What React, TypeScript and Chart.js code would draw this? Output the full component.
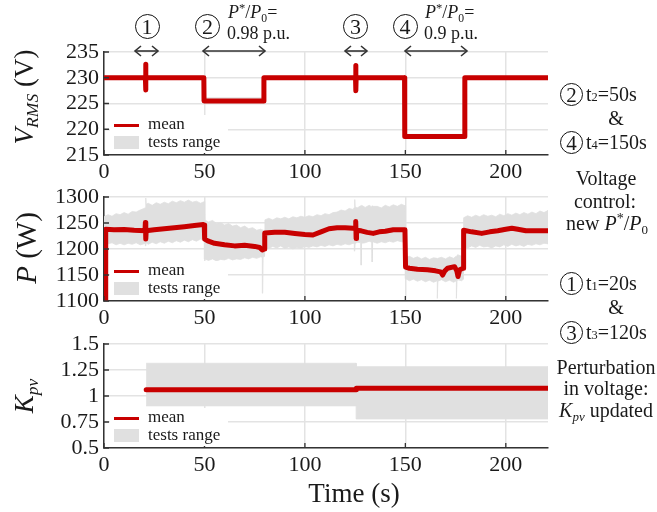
import React, { useEffect, useRef } from 'react';
import { Chart, registerables } from 'chart.js';
Chart.register(...registerables);

// ---------- data ----------
const xTicks = [0, 50, 100, 150, 200];
const X_MAX = 221;

// V_RMS panel
const vTicks = [215, 220, 225, 230, 235];
const vTime = [0, 20.6, 20.7, 20.8, 20.9, 49.7, 49.8, 79.5, 79.6, 125.2, 125.3, 125.4, 125.5, 149.6, 149.7, 179.5, 179.6, 221];
const vMean = [230, 230, 232.6, 227.6, 230, 230, 225.5, 225.5, 230, 230, 232.4, 227.5, 230, 230, 218.6, 218.6, 230, 230];
const vBandTime = [0, 49.7, 49.8, 79.5, 79.6, 149.6, 149.7, 179.5, 179.6, 221];
const vUpper = [230.3, 230.3, 226.1, 226.1, 230.3, 230.3, 219.0, 219.0, 230.3, 230.3];
const vLower = [229.7, 229.7, 225.0, 225.0, 229.7, 229.7, 218.2, 218.2, 229.7, 229.7];

// P panel
const pTicks = [1100, 1150, 1200, 1250, 1300];
const pTime = [0.8, 0.85, 5, 10, 15, 20.4, 20.6, 20.8, 21.0, 25, 30, 35, 40, 45, 49.5, 49.9, 50.1, 52, 55, 60, 65, 70, 75, 77.5, 78.8, 79.8, 80.0, 85, 90, 95, 100, 104, 108, 112, 116, 120, 124, 125.1, 125.3, 125.5, 125.7, 128, 131, 134, 137, 140, 144, 149.8, 150.1, 152, 156, 161, 165, 167.5, 168.6, 169.5, 171, 174.5, 175.6, 176.2, 177, 178.8, 179.0, 183, 188, 192, 196, 200, 203, 206, 210, 215, 221];
const pMean = [1090, 1238, 1237, 1237.5, 1236, 1235, 1251, 1219, 1235, 1237, 1239, 1241, 1243, 1245, 1247, 1246, 1219, 1215, 1211, 1208, 1206, 1207, 1205, 1203, 1198, 1200, 1231, 1232, 1232, 1230, 1228, 1227, 1233, 1239, 1241, 1241, 1240, 1241, 1253, 1220, 1236, 1235, 1232, 1230, 1233, 1234, 1237, 1237, 1165, 1163, 1161, 1160, 1158, 1156, 1150, 1157, 1163, 1166, 1158, 1147, 1160, 1163, 1236, 1233, 1230, 1233, 1235, 1238, 1240, 1238, 1235, 1235, 1235];
const pBandTime = [
  0, 2, 4, 6, 8, 10, 12, 14, 16, 18, 20, 20.6, 20.8, 21, 22, 24, 26, 28, 30, 32, 34, 36, 38, 40, 42, 44, 46, 48, 49.9,
  50.1, 52, 54, 56, 58, 60, 62, 64, 66, 68, 70, 72, 74, 76, 78, 78.8, 79, 79.2, 79.9,
  80.1, 82, 84, 86, 88, 90, 92, 94, 96, 98, 100, 102, 104, 106, 108, 110, 112, 114, 116, 118, 120, 122, 124, 124.6, 124.8, 125, 126, 127.8, 128, 128.2, 130, 132, 133.3, 133.5, 133.7, 136, 138, 140, 142, 144, 146, 148, 149.9,
  150.1, 152, 154, 156, 158, 160, 162, 164, 165.8, 166, 166.2, 168, 170, 172, 174, 175.3, 175.5, 175.7, 176, 178, 178.9,
  179, 181, 183, 185, 187, 189, 191, 193, 195, 197, 199, 201, 203, 205, 207, 209, 211, 213, 215, 217, 219, 221,
];
const pUpper = [
  1262, 1266, 1263, 1268, 1266, 1270, 1267, 1272, 1271, 1275, 1278, 1280, 1298, 1286, 1288, 1284, 1289, 1286, 1290, 1287, 1292, 1289, 1293, 1290, 1294, 1290, 1292, 1288, 1291,
  1256, 1252, 1255, 1249, 1251, 1246, 1249, 1244, 1246, 1241, 1244, 1239, 1241, 1236, 1238, 1236, 1237, 1235, 1236,
  1256, 1259, 1256, 1260, 1258, 1261, 1258, 1262, 1260, 1263, 1261, 1264, 1262, 1266, 1264, 1268, 1266, 1270, 1271, 1275, 1273, 1278, 1276, 1280, 1295, 1281, 1279, 1283, 1282, 1284, 1280, 1284, 1281, 1283, 1282, 1282, 1279, 1284, 1281, 1285, 1282, 1286, 1283,
  1183, 1186, 1182, 1185, 1181, 1184, 1180, 1183, 1182, 1181, 1182, 1184, 1181, 1185, 1182, 1186, 1184, 1186, 1189, 1186, 1188,
  1260, 1264, 1261, 1265, 1262, 1266, 1263, 1265, 1262, 1267, 1264, 1268, 1265, 1269, 1266, 1270, 1267, 1271, 1268, 1273, 1270, 1274,
];
const pLower = [
  1213, 1210, 1212, 1208, 1211, 1208, 1211, 1209, 1212, 1208, 1210, 1211, 1206, 1212, 1209, 1213, 1210, 1214, 1211, 1215, 1212, 1216, 1213, 1217, 1214, 1218, 1215, 1219, 1217,
  1181, 1178, 1181, 1177, 1180, 1179, 1182, 1179, 1181, 1180, 1183, 1181, 1184, 1182, 1185, 1184, 1115, 1184, 1186,
  1204, 1201, 1205, 1202, 1206, 1201, 1204, 1200, 1203, 1201, 1205, 1203, 1206, 1204, 1207, 1205, 1208, 1206, 1209, 1207, 1210, 1208, 1211, 1209, 1196, 1210, 1213, 1212, 1169, 1211, 1212, 1215, 1213, 1175, 1214, 1211, 1214, 1212, 1215, 1213, 1216, 1214, 1213,
  1143, 1139, 1142, 1138, 1141, 1137, 1140, 1136, 1139, 1105, 1138, 1141, 1137, 1140, 1136, 1139, 1105, 1138, 1141, 1139, 1142,
  1205, 1202, 1206, 1203, 1207, 1204, 1205, 1202, 1206, 1204, 1208, 1205, 1209, 1206, 1208, 1205, 1209, 1207, 1210, 1208, 1211, 1210,
];

// K_pv panel
const kTicks = [0.5, 0.75, 1, 1.25, 1.5];
const kTime = [21, 125.5, 125.6, 221];
const kMean = [1.06, 1.06, 1.074, 1.074];
const kBandTime = [21, 125.5, 125.6, 221];
const kUpper = [1.315, 1.315, 1.282, 1.282];
const kLower = [0.905, 0.905, 0.779, 0.779];

// ---------- styles ----------
const RED = '#c80000';
const BAND = '#e0e0e0';
const GRID = '#e3e3e3';
const AXIS = '#333333';
const INK = '#1a1a1a';
const FONT = "'Liberation Serif', 'Times New Roman', serif";

const pts = (xs: number[], ys: number[]) => xs.map((x, i) => ({ x, y: ys[i] }));
// closed outline of the range: upper edge forward, lower edge backward
const bandShape = (xs: number[], up: number[], lo: number[]) => [
  ...pts(xs, up),
  ...pts(xs, lo).reverse(),
];

const inwardTicks = {
  id: 'inwardTicks',
  afterDatasetsDraw(chart: any) {
    const { ctx, chartArea, scales } = chart;
    const xs = scales.x;
    const ys = scales.y;
    ctx.save();
    ctx.strokeStyle = AXIS;
    ctx.lineWidth = 1.3;
    ctx.beginPath();
    xs.ticks.forEach((t: any) => {
      const px = xs.getPixelForValue(t.value);
      ctx.moveTo(px, chartArea.bottom);
      ctx.lineTo(px, chartArea.bottom - 5);
    });
    ys.ticks.forEach((t: any) => {
      const py = ys.getPixelForValue(t.value);
      ctx.moveTo(chartArea.left, py);
      ctx.lineTo(chartArea.left + 5, py);
    });
    ctx.stroke();
    ctx.restore();
  },
};

function makeConfig(
  yMin: number, yMax: number, yTicks: number[],
  time: number[], mean: number[], bTime: number[], upper: number[], lower: number[],
): any {
  return {
    type: 'line',
    data: {
      datasets: [
        {
          label: 'mean', data: pts(time, mean), borderColor: RED, borderWidth: 5,
          pointRadius: 0, fill: false, borderCapStyle: 'round', borderJoinStyle: 'round',
        },
        {
          label: 'tests range', data: bandShape(bTime, upper, lower), borderColor: BAND, borderWidth: 0.8,
          backgroundColor: BAND, pointRadius: 0, fill: 'shape',
        },
      ],
    },
    options: {
      animation: false,
      responsive: true,
      maintainAspectRatio: false,
      layout: { padding: { top: 20, right: 12, bottom: 0, left: 0 } },
      plugins: { legend: { display: false }, tooltip: { enabled: false } },
      elements: { line: { tension: 0 } },
      scales: {
        x: {
          type: 'linear', min: 0, max: X_MAX,
          afterBuildTicks: (s: any) => { s.ticks = xTicks.map((v) => ({ value: v })); },
          afterFit: (s: any) => { s.height = 40; },
          grid: { color: GRID, lineWidth: 1.5, drawTicks: false },
          border: { color: AXIS, width: 1.5 },
          ticks: { padding: 4, color: INK, font: { family: FONT, size: 22 }, maxRotation: 0, autoSkip: false, callback: (v: any) => String(v) },
        },
        y: {
          type: 'linear', min: yMin, max: yMax,
          afterBuildTicks: (s: any) => { s.ticks = yTicks.map((v) => ({ value: v })); },
          afterFit: (s: any) => { s.width = 104; },
          grid: { color: GRID, lineWidth: 1.5, drawTicks: false },
          border: { color: AXIS, width: 1.5 },
          ticks: { padding: 5, color: INK, font: { family: FONT, size: 22 }, autoSkip: false, callback: (v: any) => String(v) },
        },
      },
    },
    plugins: [inwardTicks],
  };
}

function Panel({ top, height, config }: { top: number; height: number; config: () => any }) {
  const ref = useRef<HTMLCanvasElement>(null);
  useEffect(() => {
    const c = new Chart(ref.current as HTMLCanvasElement, config());
    return () => c.destroy();
  }, []);
  return (
    <div style={{ position: 'absolute', left: 0, top, width: 560, height }}>
      <canvas ref={ref} />
    </div>
  );
}

function Txt({ x, y, size = 20, center = false, children }: any) {
  return (
    <div style={{
      position: 'absolute', left: x, top: y - size * 0.6, fontSize: size, lineHeight: `${size * 1.2}px`,
      whiteSpace: 'nowrap', transform: center ? 'translateX(-50%)' : undefined,
    }}>{children}</div>
  );
}

function Circ({ cx, cy, n, d = 24, fs = 21 }: any) {
  return (
    <div style={{
      position: 'absolute', left: cx - d / 2, top: cy - d / 2, width: d, height: d, boxSizing: 'border-box',
      border: '1.5px solid #111', borderRadius: '50%', display: 'flex', alignItems: 'center', justifyContent: 'center',
      fontSize: fs, lineHeight: 1,
    }}><span style={{ position: 'relative', top: 1 }}>{n}</span></div>
  );
}

function YTitle({ cx, cy, size = 27, children }: any) {
  return (
    <div style={{
      position: 'absolute', left: cx, top: cy, transform: 'translate(-50%,-50%) rotate(-90deg)',
      fontSize: size, whiteSpace: 'nowrap', lineHeight: 1,
    }}>{children}</div>
  );
}

function Legend({ bottom }: { bottom: number }) {
  const top = bottom - 40;
  return (
    <div style={{ position: 'absolute', left: 110, top, width: 118, height: 38, background: '#fff' }}>
      <div style={{ position: 'absolute', left: 4, top: 8.5, width: 25, height: 3, background: RED }} />
      <div style={{ position: 'absolute', left: 38, top: 9 - 11, fontSize: 17, lineHeight: '22px' }}>mean</div>
      <div style={{ position: 'absolute', left: 4, top: 21, width: 25, height: 13, background: BAND }} />
      <div style={{ position: 'absolute', left: 38, top: 26.5 - 11, fontSize: 17, lineHeight: '22px' }}>tests range</div>
    </div>
  );
}

const sup = (s: string) => <span style={{ fontSize: '0.7em', position: 'relative', top: '-0.5em' }}>{s}</span>;
const sub = (s: string, italic = false) => (
  <span style={{ fontSize: '0.65em', position: 'relative', top: '0.3em', fontStyle: italic ? 'italic' : 'normal' }}>{s}</span>
);
const smallDigit = (s: string) => <span style={{ fontSize: '0.62em' }}>{s}</span>;

function Arrow({ x1, x2, y }: { x1: number; x2: number; y: number }) {
  return (
    <g stroke="#333" strokeWidth={1.6} fill="none">
      <line x1={x1} y1={y} x2={x2} y2={y} />
      <polyline points={`${x1 + 6},${y - 5} ${x1},${y} ${x1 + 6},${y + 5}`} />
      <polyline points={`${x2 - 6},${y - 5} ${x2},${y} ${x2 - 6},${y + 5}`} />
    </g>
  );
}

export default function App() {
  return (
    <div style={{ position: 'absolute', left: 0, top: 0, width: 657, height: 512, background: '#fff', fontFamily: FONT, color: INK }}>
      <Panel top={32} height={163} config={() => makeConfig(215, 235, vTicks, vTime, vMean, vBandTime, vUpper, vLower)} />
      <Panel top={177} height={164} config={() => makeConfig(1100, 1300, pTicks, pTime, pMean, pBandTime, pUpper, pLower)} />
      <Panel top={324} height={164} config={() => makeConfig(0.5, 1.5, kTicks, kTime, kMean, kBandTime, kUpper, kLower)} />

      <Legend bottom={155} />
      <Legend bottom={301} />
      <Legend bottom={448} />

      <svg width={657} height={512} style={{ position: 'absolute', left: 0, top: 0, pointerEvents: 'none' }}>
        <Arrow x1={135} x2={158} y={51} />
        <Arrow x1={203} x2={265} y={51} />
        <Arrow x1={345} x2={367} y={51} />
        <Arrow x1={405} x2={467} y={51} />
      </svg>

      <Circ cx={147} cy={26} n="1" d={25} fs={22} />
      <Circ cx={207.5} cy={26} n="2" d={25} fs={22} />
      <Circ cx={355.5} cy={26} n="3" d={25} fs={22} />
      <Circ cx={405} cy={26} n="4" d={25} fs={22} />
      <Txt x={228} y={13} size={18}><i>P</i>{sup('*')}/<i>P</i>{sub('0')}=</Txt>
      <Txt x={227} y={34} size={18}>0.98 p.u.</Txt>
      <Txt x={425} y={13} size={18}><i>P</i>{sup('*')}/<i>P</i>{sub('0')}=</Txt>
      <Txt x={424} y={34} size={18}>0.9 p.u.</Txt>

      <YTitle cx={24} cy={97}><i>V</i>{sub('RMS', true)} (V)</YTitle>
      <YTitle cx={26} cy={248} size={29}><i>P</i> (W)</YTitle>
      <YTitle cx={24} cy={396}><i>K</i>{sub('pv', true)}</YTitle>

      <Txt x={354} y={493} size={27} center>Time (s)</Txt>

      <Circ cx={571.5} cy={94} n="2" d={23} />
      <Txt x={586} y={94} size={20}>t{smallDigit('2')}=50s</Txt>
      <Txt x={616} y={118} size={20} center>&amp;</Txt>
      <Circ cx={571.5} cy={142} n="4" d={23} />
      <Txt x={586} y={142} size={20}>t{smallDigit('4')}=150s</Txt>
      <Txt x={606} y={178} size={20} center>Voltage</Txt>
      <Txt x={605} y={201} size={20} center>control:</Txt>
      <Txt x={607} y={223} size={20} center>new <i>P</i>{sup('*')}/<i>P</i>{sub('0')}</Txt>

      <Circ cx={571.5} cy={283} n="1" d={23} />
      <Txt x={586} y={283} size={20}>t{smallDigit('1')}=20s</Txt>
      <Txt x={616} y={307} size={20} center>&amp;</Txt>
      <Circ cx={571.5} cy={332} n="3" d={23} />
      <Txt x={586} y={332} size={20}>t{smallDigit('3')}=120s</Txt>
      <Txt x={606} y={367} size={20} center>Perturbation</Txt>
      <Txt x={606} y={388} size={20} center>in voltage:</Txt>
      <Txt x={606} y={410} size={20} center><i>K</i>{sub('pv', true)} updated</Txt>
    </div>
  );
}
